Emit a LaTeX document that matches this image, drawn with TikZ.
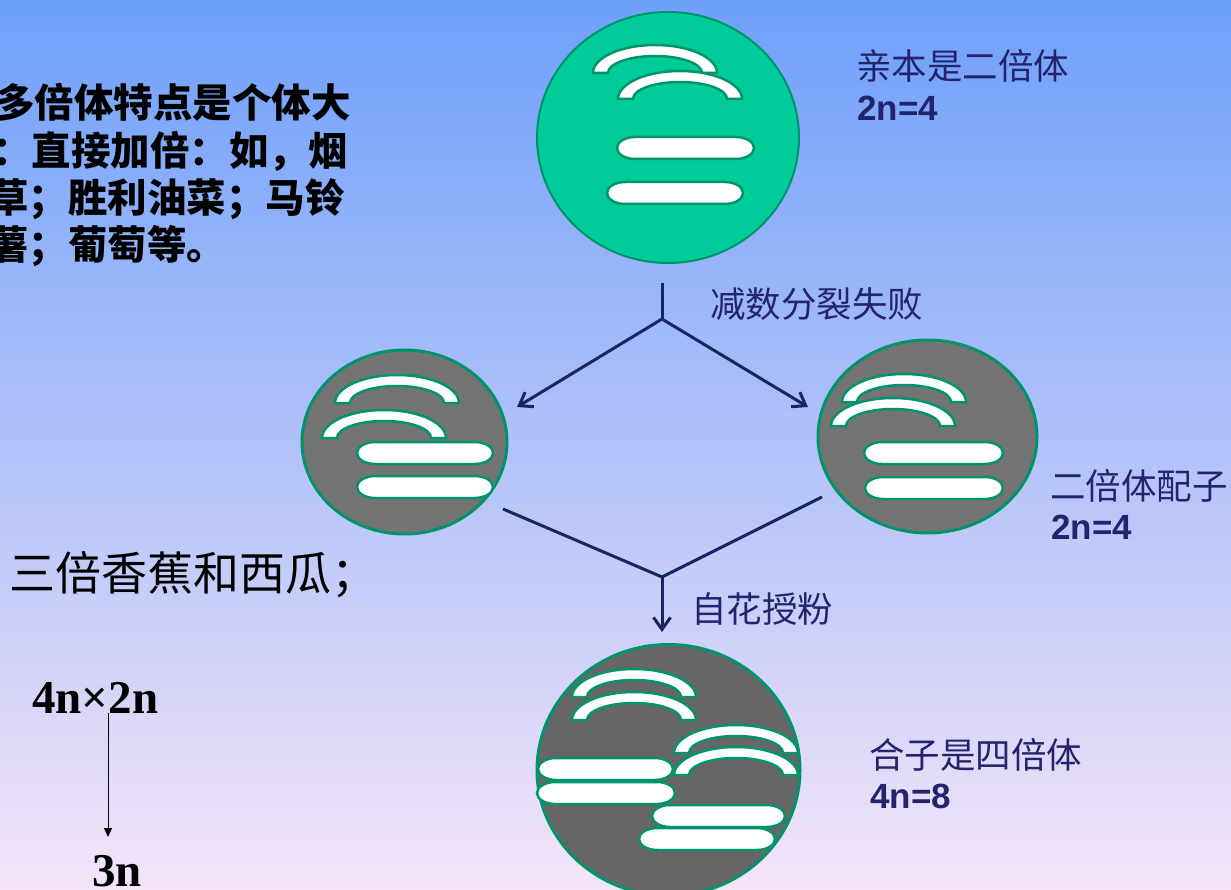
\documentclass[tikz,border=0pt]{standalone}
\usepackage{fontspec}
\setmainfont{Liberation Serif}
\newfontfamily\cjk{Noto Sans CJK SC}
\newfontfamily\latinsans{Liberation Sans}
\usetikzlibrary{arrows.meta,shapes.geometric}

\definecolor{bgtop}{RGB}{110,160,250}
\definecolor{bgmid}{RGB}{184,200,248}
\definecolor{bgbot}{RGB}{244,228,248}
\definecolor{parentfill}{RGB}{0,204,153}
\definecolor{rim}{RGB}{0,148,108}
\definecolor{gametefill}{RGB}{116,116,116}
\definecolor{zygotefill}{RGB}{102,102,102}
\definecolor{flowcol}{RGB}{22,38,96}
\definecolor{labelcol}{RGB}{36,36,110}

% bent chromosome: left x, bottom y
\newcommand\chromarch[2]{%
  \path[chromo] (#1,#2) arc[start angle=180,end angle=360,x radius=62,y radius=28]
    -- ++(-15,0) arc[start angle=360,end angle=180,x radius=47,y radius=17] -- cycle;}
% straight chromosome: left x, top y, length
\newcommand\chromrod[3]{%
  \path[chromo] (#1+18,#2) -- (#1+#3-18,#2)
    arc[start angle=270,end angle=450,x radius=18,y radius=11]
    -- (#1+18,#2+22)
    arc[start angle=90,end angle=270,x radius=18,y radius=11] -- cycle;}

\begin{document}
\begin{tikzpicture}[x=1pt,y=-1pt,
  cell/.style={ellipse,draw=rim,line width=3pt,inner sep=0pt},
  chromo/.style={draw=rim,fill=white,line width=2.5pt},
  flow/.style={draw=flowcol,line width=3pt},
  barb/.style={-{Straight Barb[length=12pt,width=17pt]}},
  label/.style={anchor=west,inner sep=0pt,text=labelcol,font=\cjk\fontsize{35.5}{40}\selectfont},
  count/.style={anchor=west,inner sep=0pt,text=labelcol,font=\latinsans\bfseries\fontsize{35}{40}\selectfont},
  note/.style={anchor=west,inner sep=0pt,text=black,font=\cjk\bfseries\fontsize{39.5}{44}\selectfont},
  cross/.style={anchor=west,inner sep=0pt,text=black,font=\bfseries\fontsize{47}{52}\selectfont}]

\useasboundingbox (0,0) rectangle (1231,890);
\clip (0,0) rectangle (1231,890);
\shade[top color=bgtop,middle color=bgmid,bottom color=bgbot] (0,0) rectangle (1231,890);

% cells
\node[cell,fill=parentfill,line width=2pt,minimum width=262pt,minimum height=251pt] (parent) at (668,137.5) {};
\node[cell,fill=gametefill,minimum width=205pt,minimum height=184pt] (gameteL) at (404.5,442) {};
\node[cell,fill=gametefill,minimum width=219pt,minimum height=193pt] (gameteR) at (927.5,436.5) {};
\node[cell,fill=zygotefill,minimum width=263pt,minimum height=251pt] (zygote) at (668.5,770) {};

% chromosomes of the parent
\chromarch{593}{73}
\chromarch{618}{99}
\chromrod{617}{137}{137}
\chromrod{607}{182}{136}

% chromosomes of the left gamete
\chromarch{335}{403}
\chromarch{322}{438}
\chromrod{357}{442}{136}
\chromrod{357}{476}{136}

% chromosomes of the right gamete
\chromarch{842}{402}
\chromarch{831}{426}
\chromrod{864}{442}{139}
\chromrod{865}{477}{138}

% chromosomes of the zygote
\chromarch{572}{697}
\chromarch{572}{720}
\chromarch{674}{753}
\chromarch{674}{775}
\chromrod{538}{758}{135}
\chromrod{537}{782}{138}
\chromrod{652}{805}{133}
\chromrod{639}{828}{136}

% connectors
\coordinate (stub) at (662,283);
\coordinate (fork) at (662,319);
\coordinate (tipL) at (517,407);
\coordinate (tipR) at (808,407);
\coordinate (inL) at (503,509);
\coordinate (inR) at (822,497);
\coordinate (merge) at (662,577);
\coordinate (tipD) at (662,632);
\draw[flow] (stub) -- (fork);
\draw[flow,barb] (fork) -- (tipL);
\draw[flow,barb] (fork) -- (tipR);
\draw[flow,line join=miter] (inL) -- (merge) -- (inR);
\draw[flow,barb] (merge) -- (tipD);

% labels
\node[label] (lparent) at (856,66) {亲本是二倍体};
\node[count] (cparent) at (857,108) {2n=4};
\node[label] (lmeiosis) at (710,304) {减数分裂失败};
\node[label] (lgamete) at (1050,486) {二倍体配子};
\node[count] (cgamete) at (1051,527) {2n=4};
\node[label] (lselfing) at (691,609) {自花授粉};
\node[label] (lzygote) at (869,755) {合子是四倍体};
\node[count] (czygote) at (870,796) {4n=8};

% notes on the left
\node[note] (n1) at (-5,102) {多倍体特点是个体大};
\node[note] (n2) at (-8,151) {：直接加倍：如，烟};
\node[note] (n3) at (-11,199) {草；胜利油菜；马铃};
\node[note] (n4) at (-11,246) {薯；葡萄等。};
\node[anchor=west,inner sep=0pt,font=\cjk\fontsize{46}{50}\selectfont] (triploid) at (9,575) {三倍香蕉和西瓜；};

\node[cross] (cross) at (32,698) {4n×2n};
\node[cross] (offspring) at (92,871) {3n};
\coordinate (xs) at (108,713);
\coordinate (xe) at (108,837);
\draw[line width=1pt,-{Triangle[length=9pt,width=8pt]}] (xs) -- (xe);
\end{tikzpicture}
\end{document}
